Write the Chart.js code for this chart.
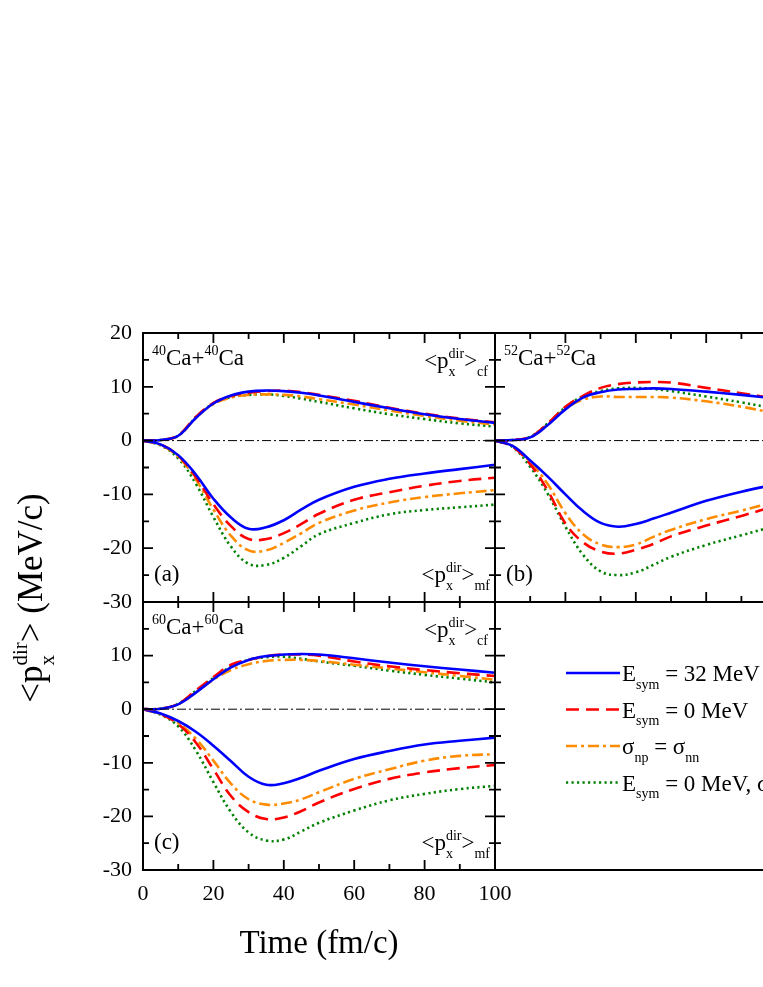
<!DOCTYPE html>
<html>
<head>
<meta charset="utf-8">
<script src="https://cdn.jsdelivr.net/npm/chart.js@4.4.1/dist/chart.umd.min.js"></script>
<style>
html, body { margin: 0; padding: 0; background: #fff; overflow: hidden; }
#wrap { position: relative; width: 763px; height: 987px; overflow: hidden; }
#wrap canvas { position: absolute; left: 0; top: 0; }
</style>
</head>
<body>
<div id="wrap">
  <canvas id="panelA"></canvas>
  <canvas id="panelB"></canvas>
  <canvas id="panelC"></canvas>
  <canvas id="panelD"></canvas>
</div>
<script>
// =======================================================
// Données
// =======================================================

const time = [0, 5, 10, 15, 20, 25, 30, 35, 40, 45, 50, 60, 70, 80, 90, 100];
const timeB = [0, 5, 10, 15, 20, 25, 30, 35, 40, 45, 50, 60, 70, 80];
const zeroTime = [0, 100];
const zeroValue = [0, 0];

// (a) 40Ca+40Ca
const aCfE32  = [0, 0.1, 0.9, 4.2, 6.9, 8.4, 9.1, 9.3, 9.2, 8.9, 8.4, 7.2, 6.0, 4.9, 4.0, 3.3];
const aCfE0   = [0, 0.1, 1.0, 4.4, 7.0, 8.3, 8.9, 9.2, 9.3, 9.0, 8.5, 7.4, 6.1, 5.0, 4.1, 3.4];
const aCfSig  = [0, 0.1, 0.9, 4.2, 6.8, 8.0, 8.5, 8.6, 8.5, 8.2, 7.7, 6.7, 5.6, 4.6, 3.7, 3.0];
const aCfBoth = [0, 0.1, 0.9, 4.3, 6.9, 8.1, 8.5, 8.6, 8.3, 7.8, 7.2, 6.0, 4.9, 4.0, 3.2, 2.6];
const aMfE32  = [0, -0.7, -2.7, -6.3, -10.8, -14.3, -16.4, -16.1, -14.8, -12.8, -11.0, -8.6, -7.1, -6.1, -5.3, -4.5];
const aMfE0   = [0, -0.7, -2.8, -6.8, -11.8, -15.9, -18.3, -18.3, -17.2, -15.5, -13.6, -11.0, -9.6, -8.4, -7.5, -6.9];
const aMfSig  = [0, -0.8, -3.0, -7.2, -12.8, -17.7, -20.4, -20.4, -19.0, -17.2, -15.3, -13.0, -11.5, -10.5, -9.8, -9.2];
const aMfBoth = [0, -0.9, -3.3, -8.0, -14.2, -19.7, -22.9, -23.1, -21.8, -19.6, -17.4, -15.3, -13.7, -12.9, -12.4, -11.9];

// (b) 52Ca+52Ca
const bCfE32  = [0, 0.1, 0.6, 2.9, 5.8, 8.0, 9.0, 9.5, 9.6, 9.7, 9.6, 9.1, 8.5, 7.8];
const bCfE0   = [0, 0.1, 0.7, 3.2, 6.3, 8.3, 9.8, 10.5, 10.8, 10.9, 10.8, 9.8, 8.8, 7.8];
const bCfSig  = [0, 0.1, 0.6, 3.0, 5.9, 7.6, 8.2, 8.1, 8.1, 8.1, 8.0, 7.3, 6.3, 5.0];
const bCfBoth = [0, 0.1, 0.7, 3.2, 6.2, 8.2, 9.2, 9.7, 9.8, 9.6, 9.2, 8.2, 7.1, 5.9];
const bMfE32  = [0, -1.0, -3.7, -6.7, -10.0, -13.1, -15.3, -16.0, -15.5, -14.5, -13.4, -11.2, -9.5, -8.1];
const bMfE0   = [0, -1.1, -4.4, -9.3, -15.4, -18.9, -20.6, -21.0, -20.3, -19.2, -17.8, -15.8, -14.0, -12.1];
const bMfSig  = [0, -1.0, -4.0, -8.1, -13.5, -17.4, -19.3, -19.8, -19.3, -17.9, -16.6, -14.6, -13.0, -11.3];
const bMfBoth = [0, -1.2, -4.9, -9.9, -16.0, -21.2, -24.3, -25.0, -24.5, -23.1, -21.6, -19.4, -17.6, -15.8];

// (c) 60Ca+60Ca
const cCfE32  = [0, 0.1, 0.9, 3.1, 5.6, 7.8, 9.2, 9.9, 10.2, 10.3, 10.2, 9.5, 8.7, 8.0, 7.4, 6.8];
const cCfE0   = [0, 0.1, 1.0, 3.5, 6.0, 8.3, 9.2, 9.9, 10.2, 10.2, 10.0, 8.9, 8.0, 7.3, 6.7, 6.2];
const cCfSig  = [0, 0.1, 0.9, 3.2, 5.5, 7.3, 8.4, 9.0, 9.2, 9.2, 9.0, 8.3, 7.6, 6.9, 6.2, 5.5];
const cCfBoth = [0, 0.1, 1.0, 3.4, 5.8, 7.9, 9.2, 9.7, 9.8, 9.4, 8.9, 8.1, 7.2, 6.4, 5.7, 5.0];
const cMfE32  = [0, -0.8, -2.2, -4.2, -6.8, -9.7, -12.6, -14.1, -13.8, -12.8, -11.5, -9.3, -7.8, -6.6, -5.9, -5.3];
const cMfE0   = [0, -0.9, -2.8, -6.2, -11.2, -16.2, -19.2, -20.5, -20.2, -19.0, -17.4, -14.9, -13.0, -11.8, -11.0, -10.4];
const cMfSig  = [0, -0.9, -2.6, -5.5, -9.6, -13.9, -16.8, -17.8, -17.6, -16.8, -15.5, -13.0, -11.2, -9.6, -8.7, -8.4];
const cMfBoth = [0, -1.0, -3.2, -7.7, -13.6, -19.2, -23.0, -24.5, -24.3, -22.8, -21.2, -18.9, -17.0, -15.8, -14.9, -14.3];

const xTickLabels = [0, 20, 40, 60, 80, 100];
const yTickLabels = [20, 10, 0, -10, -20, -30];

// =======================================================
// Styles
// =======================================================

const FONT = '"Liberation Serif", "Times New Roman", serif';
const W = 900, H = 987;

const styles = [
    { color: '#0000ff', dash: [] },
    { color: '#ff0000', dash: [13, 7] },
    { color: '#ff8c00', dash: [11, 4, 3, 4] },
    { color: '#008000', dash: [2.2, 3.3] }
];

Chart.defaults.font.family = FONT;
Chart.defaults.color = '#000';

function series(t, values, s) {
    return {
        data: t.map((x, i) => ({ x: x, y: values[i] })),
        borderColor: s.color,
        borderDash: s.dash,
        borderWidth: 2.6,
        pointRadius: 0,
        tension: 0.4,
        fill: false
    };
}

function zeroLine() {
    return {
        data: zeroTime.map((x, i) => ({ x: x, y: zeroValue[i] })),
        borderColor: '#000',
        borderWidth: 1,
        borderDash: [9, 3, 2, 3],
        pointRadius: 0,
        fill: false
    };
}

// =======================================================
// Texte avec indices / exposants
// =======================================================

function drawRich(ctx, x, y, parts, big, small, dryRun) {
    let cx = x;
    const sub = big * 0.33, sup = big * 0.42;
    parts.forEach(p => {
        if (p.stack) {
            ctx.font = small + 'px ' + FONT;
            const w1 = ctx.measureText(p.stack[0]).width;
            const w2 = ctx.measureText(p.stack[1]).width;
            if (!dryRun) {
                ctx.fillText(p.stack[0], cx, y + sub);
                ctx.fillText(p.stack[1], cx, y - sup);
            }
            cx += Math.max(w1, w2);
        } else {
            ctx.font = (p.s ? small : big) + 'px ' + FONT;
            const dy = p.s === 'sub' ? sub : (p.s === 'sup' ? -sup : 0);
            if (!dryRun) ctx.fillText(p.t, cx, y + dy);
            cx += ctx.measureText(p.t).width;
        }
    });
    return cx - x;
}

function pxLabel(tag) {
    return [{ t: '<p' }, { stack: ['x', 'dir'] }, { t: '>' }, { t: tag, s: 'sub' }];
}

// =======================================================
// Cadre, graduations intérieures et annotations
// =======================================================

const framePlugin = {
    id: 'frame',
    afterDatasetsDraw(chart, args, o) {
        const { ctx, chartArea: a } = chart;
        const xs = chart.scales.x, ys = chart.scales.y;
        ctx.save();
        ctx.strokeStyle = '#000';
        ctx.lineWidth = 2;
        ctx.setLineDash([]);
        ctx.strokeRect(a.left, a.top, a.right - a.left, a.bottom - a.top);

        ctx.lineWidth = 1.8;
        ctx.beginPath();
        for (let v = xs.min; v <= xs.max; v += 10) {
            const px = xs.getPixelForValue(v);
            const len = v % 20 === 0 ? 10 : 6;
            if (o.top) { ctx.moveTo(px, a.top); ctx.lineTo(px, a.top + len); }
            if (o.bottom) { ctx.moveTo(px, a.bottom); ctx.lineTo(px, a.bottom - len); }
        }
        for (let v = ys.min; v <= ys.max; v += 5) {
            const py = ys.getPixelForValue(v);
            const len = v % 10 === 0 ? 10 : 6;
            if (o.left) { ctx.moveTo(a.left, py); ctx.lineTo(a.left + len, py); }
            if (o.right) { ctx.moveTo(a.right, py); ctx.lineTo(a.right - len, py); }
        }
        ctx.stroke();

        ctx.fillStyle = '#000';
        ctx.textAlign = 'left';
        ctx.textBaseline = 'alphabetic';
        if (o.system) {
            drawRich(ctx, a.left + 9, a.top + 32,
                [{ t: o.system, s: 'sup' }, { t: 'Ca+' }, { t: o.system, s: 'sup' }, { t: 'Ca' }], 23, 14);
        }
        if (o.tag) {
            ctx.font = '23px ' + FONT;
            ctx.fillText(o.tag, a.left + 11, a.bottom - 21);
        }
        if (o.cf) {
            const w = drawRich(ctx, 0, 0, pxLabel('cf'), 23, 14, true);
            drawRich(ctx, 495 - 7 - w, a.top + 35, pxLabel('cf'), 23, 14);
        }
        if (o.mf) {
            const w = drawRich(ctx, 0, 0, pxLabel('mf'), 23, 14, true);
            drawRich(ctx, 495 - 5 - w, a.bottom - 20, pxLabel('mf'), 23, 14);
        }
        if (o.titles) {
            ctx.font = '33px ' + FONT;
            ctx.textAlign = 'center';
            ctx.fillText('Time (fm/c)', (a.left + a.right) / 2, 953);
            ctx.textAlign = 'left';
            const parts = [{ t: '<p' }, { stack: ['x', 'dir'] }, { t: '> (MeV/c)' }];
            const w = drawRich(ctx, 0, 0, parts, 35, 21, true);
            ctx.translate(42, 598);
            ctx.rotate(-Math.PI / 2);
            drawRich(ctx, -w / 2, 0, parts, 35, 21);
        }
        if (o.legend) {
            const texts = [
                [{ t: 'E' }, { t: 'sym', s: 'sub' }, { t: ' = 32 MeV' }],
                [{ t: 'E' }, { t: 'sym', s: 'sub' }, { t: ' = 0 MeV' }],
                [{ t: 'σ' }, { t: 'np', s: 'sub' }, { t: ' = σ' }, { t: 'nn', s: 'sub' }],
                [{ t: 'E' }, { t: 'sym', s: 'sub' }, { t: ' = 0 MeV, σ' }, { t: 'np', s: 'sub' }, { t: ' = σ' }, { t: 'nn', s: 'sub' }]
            ];
            styles.forEach((s, i) => {
                const ly = 673 + i * 36.5;
                ctx.strokeStyle = s.color;
                ctx.lineWidth = 2.6;
                ctx.setLineDash(s.dash);
                ctx.beginPath();
                ctx.moveTo(566, ly);
                ctx.lineTo(620, ly);
                ctx.stroke();
                ctx.setLineDash([]);
                drawRich(ctx, 622, ly + 8, texts[i], 23, 14);
            });
        }
        ctx.restore();
    }
};

// =======================================================
// Construction d'un panneau
// =======================================================

function makePanel(id, box, datasets, o) {
    const canvas = document.getElementById(id);
    canvas.width = W; canvas.height = H;
    canvas.style.width = W + 'px'; canvas.style.height = H + 'px';
    const yW = 60, xH = 40;

    return new Chart(canvas, {
        type: 'line',
        data: { datasets: datasets },
        plugins: [framePlugin],
        options: {
            responsive: false,
            animation: false,
            events: [],
            layout: {
                padding: { left: box.left - yW, top: box.top, right: W - box.right, bottom: H - box.bottom - xH }
            },
            plugins: { legend: { display: false }, tooltip: { enabled: false }, frame: o },
            scales: {
                x: {
                    type: 'linear', min: 0, max: 100,
                    grid: { display: false, drawTicks: false },
                    border: { display: false },
                    afterFit: s => { s.height = xH; },
                    afterBuildTicks: s => { s.ticks = xTickLabels.map(v => ({ value: v })); },
                    ticks: { display: !!o.xLabels, padding: 11, font: { size: 22 }, color: '#000', autoSkip: false, maxRotation: 0 }
                },
                y: {
                    type: 'linear', min: -30, max: 20,
                    grid: { display: false, drawTicks: false },
                    border: { display: false },
                    afterFit: s => { s.width = yW; },
                    afterBuildTicks: s => {
                        s.ticks = yTickLabels.filter(v => !(o.skipTop && v === 20)).map(v => ({ value: v }));
                    },
                    ticks: { display: !!o.yLabels, padding: 11, font: { size: 22 }, color: '#000' }
                }
            }
        }
    });
}

function panelSets(t, cf, mf) {
    const sets = [zeroLine()];
    cf.forEach((v, i) => sets.push(series(t, v, styles[i])));
    mf.forEach((v, i) => sets.push(series(t, v, styles[i])));
    return sets;
}

const LEFT = 143, MID = 495, RIGHT = 847;
const TOP = 333, ROW = 602, BOTTOM = 870;

makePanel('panelA', { left: LEFT, right: MID, top: TOP, bottom: ROW },
    panelSets(time, [aCfE32, aCfE0, aCfSig, aCfBoth], [aMfE32, aMfE0, aMfSig, aMfBoth]),
    { top: true, bottom: true, left: true, right: true, yLabels: true,
      system: '40', tag: '(a)', cf: true, mf: true });

makePanel('panelB', { left: MID, right: RIGHT, top: TOP, bottom: ROW },
    panelSets(timeB, [bCfE32, bCfE0, bCfSig, bCfBoth], [bMfE32, bMfE0, bMfSig, bMfBoth]),
    { top: true, bottom: true, left: true, right: true,
      system: '52', tag: '(b)' });

makePanel('panelC', { left: LEFT, right: MID, top: ROW, bottom: BOTTOM },
    panelSets(time, [cCfE32, cCfE0, cCfSig, cCfBoth], [cMfE32, cMfE0, cMfSig, cMfBoth]),
    { top: true, bottom: true, left: true, right: true, yLabels: true, xLabels: true, skipTop: true,
      system: '60', tag: '(c)', cf: true, mf: true, titles: true });

makePanel('panelD', { left: MID, right: RIGHT, top: ROW, bottom: BOTTOM }, [],
    { left: true, legend: true });
</script>
</body>
</html>
